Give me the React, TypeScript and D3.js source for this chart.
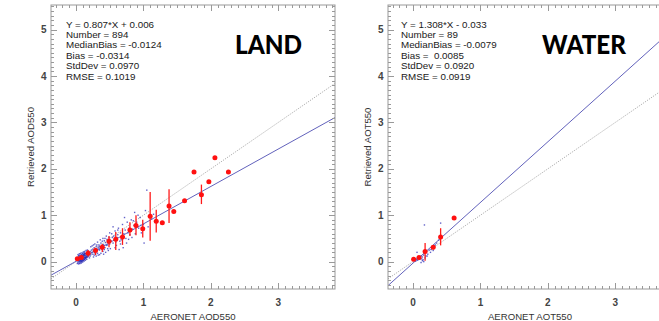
import React from "react";
import * as d3 from "d3";

// ---- Data ----
const panelNames = ["LAND", "WATER"];
const xTitles = ["AERONET AOD550", "AERONET AOT550"];
const yTitles = ["Retrieved AOD550", "Retrieved AOT550"];
const landStats = ["Y = 0.807*X + 0.006", "Number = 894", "MedianBias = -0.0124", "Bias = -0.0314", "StdDev = 0.0970", "RMSE = 0.1019"];
const waterStats = ["Y = 1.308*X - 0.033", "Number = 89", "MedianBias = -0.0079", "Bias =  0.0085", "StdDev = 0.0920", "RMSE = 0.0919"];
const landFit = [0.807, 0.006];
const waterFit = [1.308, -0.033];
const xTickValues = [0, 1, 2, 3];
const yTickValues = [0, 1, 2, 3, 4, 5];

// binned means with std range (x, y, low, high)
const landBinX = [0.02, 0.08, 0.18, 0.29, 0.39, 0.49, 0.59, 0.69, 0.80, 0.89, 0.99, 1.10, 1.19, 1.28, 1.38, 1.45, 1.61, 1.75, 1.86, 1.97, 2.06, 2.26];
const landBinY = [0.06, 0.09, 0.18, 0.24, 0.31, 0.44, 0.48, 0.53, 0.68, 0.78, 0.71, 0.98, 0.87, 0.84, 1.20, 1.08, 1.31, 1.93, 1.44, 1.72, 2.24, 1.93];
const landBinLo = [0.02, 0.04, 0.11, 0.14, 0.21, 0.31, 0.25, 0.36, 0.55, 0.57, 0.52, 0.45, 0.63, 0.84, 0.83, 1.08, 1.31, 1.93, 1.24, 1.72, 2.24, 1.93];
const landBinHi = [0.10, 0.14, 0.25, 0.30, 0.38, 0.55, 0.64, 0.72, 0.85, 1.00, 0.90, 1.50, 1.12, 0.84, 1.56, 1.08, 1.31, 1.93, 1.66, 1.72, 2.24, 1.93];

const waterBinX = [0.01, 0.09, 0.18, 0.30, 0.41, 0.61];
const waterBinY = [0.05, 0.09, 0.22, 0.31, 0.53, 0.94];
const waterBinLo = [0.03, 0.06, 0.02, 0.26, 0.35, 0.94];
const waterBinHi = [0.07, 0.12, 0.40, 0.36, 0.72, 0.94];

const landPoints: [number, number][] = [
  [0.02, 0.03], [0.03, 0.05], [0.03, 0.01], [0.04, 0.07], [0.04, 0.02], [0.05, 0.04], [0.05, 0.08], [0.05, 0.0],
  [0.06, 0.05], [0.06, 0.10], [0.06, 0.03], [0.07, 0.06], [0.07, 0.09], [0.07, 0.02], [0.08, 0.07], [0.08, 0.11],
  [0.08, 0.04], [0.09, 0.08], [0.09, 0.12], [0.09, 0.05], [0.10, 0.09], [0.10, 0.06], [0.10, 0.13], [0.11, 0.10],
  [0.11, 0.07], [0.11, 0.14], [0.12, 0.11], [0.12, 0.08], [0.12, 0.15], [0.13, 0.12], [0.13, 0.09], [0.13, 0.16],
  [0.14, 0.13], [0.14, 0.10], [0.15, 0.14], [0.15, 0.11], [0.15, 0.18], [0.16, 0.15], [0.16, 0.12], [0.17, 0.16],
  [0.17, 0.13], [0.18, 0.19], [0.18, 0.14], [0.19, 0.17], [0.04, 0.10], [0.05, 0.12], [0.06, 0.14], [0.08, 0.15],
  [0.10, 0.17], [0.12, 0.19], [0.03, -0.02], [0.05, -0.03], [0.07, -0.01], [0.09, 0.01], [0.11, 0.03], [0.13, 0.05],
  [0.14, 0.17], [0.16, 0.20], [0.02, 0.07], [0.04, 0.13], [0.06, 0.01], [0.08, 0.0], [0.10, 0.02], [0.12, 0.04],
  [0.14, 0.07], [0.03, 0.09], [0.05, 0.06], [0.07, 0.12], [0.09, 0.14], [0.11, 0.16], [0.13, 0.18], [0.15, 0.08],
  [0.17, 0.10], [0.19, 0.13], [0.18, 0.22], [0.16, 0.09], [0.06, 0.08], [0.08, 0.09], [0.10, 0.11], [0.12, 0.13],
  [0.02, -0.04], [0.04, -0.05], [0.06, -0.04], [0.08, -0.03], [0.10, -0.01], [0.12, 0.01], [0.14, 0.03], [0.16, 0.05],
  [0.03, 0.15], [0.05, 0.17], [0.07, 0.18], [0.09, 0.19], [0.11, 0.21], [0.13, 0.22], [0.15, 0.24], [0.17, 0.25],
  [0.04, 0.04], [0.06, 0.06], [0.08, 0.02], [0.10, 0.04], [0.12, 0.06], [0.14, 0.08], [0.16, 0.17], [0.18, 0.11],
  [0.20, 0.18], [0.21, 0.22], [0.22, 0.15], [0.23, 0.25], [0.24, 0.20], [0.25, 0.27], [0.25, 0.16], [0.26, 0.23],
  [0.27, 0.30], [0.28, 0.19], [0.29, 0.26], [0.30, 0.33], [0.30, 0.22], [0.31, 0.28], [0.32, 0.18], [0.33, 0.31],
  [0.34, 0.36], [0.35, 0.25], [0.36, 0.30], [0.37, 0.40], [0.38, 0.27], [0.39, 0.34], [0.40, 0.22], [0.41, 0.37],
  [0.42, 0.45], [0.43, 0.30], [0.44, 0.41], [0.45, 0.35], [0.46, 0.48], [0.47, 0.28], [0.48, 0.43], [0.49, 0.52],
  [0.50, 0.38], [0.22, 0.32], [0.26, 0.10], [0.33, 0.14], [0.28, 0.38], [0.36, 0.47], [0.40, 0.50], [0.44, 0.20],
  [0.35, 0.15], [0.21, 0.12], [0.23, 0.19], [0.27, 0.21], [0.29, 0.17], [0.31, 0.24], [0.34, 0.26], [0.38, 0.33],
  [0.20, 0.08], [0.24, 0.34], [0.26, 0.36], [0.30, 0.12], [0.32, 0.42], [0.37, 0.18], [0.39, 0.44], [0.42, 0.26],
  [0.45, 0.55], [0.47, 0.36], [0.43, 0.50], [0.41, 0.16], [0.27, 0.14], [0.31, 0.36], [0.35, 0.33], [0.48, 0.24],
  [0.52, 0.45], [0.53, 0.60], [0.55, 0.40], [0.56, 0.55], [0.57, 0.48], [0.58, 0.66], [0.60, 0.35], [0.61, 0.52],
  [0.62, 0.58], [0.63, 0.72], [0.65, 0.44], [0.66, 0.62], [0.68, 0.55], [0.69, 0.80], [0.70, 0.30], [0.71, 0.60],
  [0.73, 0.68], [0.74, 0.50], [0.76, 0.85], [0.77, 0.62], [0.79, 0.72], [0.80, 0.58], [0.82, 0.90], [0.84, 0.70],
  [0.86, 0.78], [0.87, 1.06], [0.88, 0.60], [0.90, 0.85], [0.93, 0.72], [0.95, 0.95], [0.97, 0.62], [1.00, 0.80],
  [1.01, 0.40], [1.03, 1.10], [1.05, 1.54], [1.07, 0.75], [1.12, 0.92], [1.15, 1.02], [0.55, 0.75], [0.64, 0.26],
  [0.72, 0.95], [0.50, 0.62], [0.58, 0.30], [0.67, 0.47], [0.75, 0.40], [0.83, 0.52], [0.92, 1.00], [0.54, 0.52],
  [0.51, 0.28], [0.59, 0.42], [0.62, 0.68], [0.66, 0.38], [0.78, 0.48], [0.81, 0.66], [0.85, 0.88], [0.96, 0.78],
];

const waterPoints: [number, number][] = [
  [0.02, 0.02], [0.03, 0.05], [0.04, 0.01], [0.05, 0.04], [0.06, 0.07], [0.07, 0.03], [0.08, 0.06], [0.09, 0.10],
  [0.10, 0.05], [0.11, 0.08], [0.12, 0.12], [0.13, 0.06], [0.14, 0.10], [0.15, 0.04], [0.16, 0.14], [0.17, 0.79],
  [0.18, 0.18], [0.19, 0.12], [0.20, 0.22], [0.22, 0.16], [0.24, 0.25], [0.26, 0.20], [0.28, 0.30], [0.30, 0.24],
  [0.32, 0.33], [0.35, 0.40], [0.38, 0.46], [0.41, 0.83], [0.06, 0.20], [0.12, -0.02], [0.14, 0.02], [0.16, 0.0],
  [0.18, 0.08], [0.21, 0.12], [0.27, 0.26], [0.33, 0.36],
];

// ---- Layout ----
const W = 659;
const H = 321;
const panelLeft = [51, 388];
const panelW = 284;
const top = 5;
const bottom = 289;
const xDomain: [number, number] = [-0.37, 3.84];
const yDomain: [number, number] = [-0.59, 5.53];
const statsOffset = [15, 13];
const nameX = [268.5, 584];
const nameW = [67, 84];

type PanelProps = {
  idx: number;
  stats: string[];
  fit: number[];
  points: [number, number][];
  bx: number[];
  by: number[];
  lo: number[];
  hi: number[];
};

function Panel({ idx, stats, fit, points, bx, by, lo, hi }: PanelProps) {
  const x0 = panelLeft[idx];
  const x1 = x0 + panelW;
  const xs = d3.scaleLinear().domain(xDomain).range([x0, x1]);
  const ys = d3.scaleLinear().domain(yDomain).range([bottom, top]);
  const clipId = `clip${idx}`;
  const xMinor = d3.range(-3, 39).map((i) => i / 10);
  const yMinor = d3.range(-5, 56).map((i) => i / 10);
  const line = d3.line<[number, number]>().x((d) => xs(d[0])).y((d) => ys(d[1]));
  const fitPts: [number, number][] = xDomain.map((v) => [v, fit[0] * v + fit[1]] as [number, number]);
  const onePts: [number, number][] = xDomain.map((v) => [v, v] as [number, number]);
  const axisColor = "#999";
  const isMajor = (v: number) => Math.abs(v - Math.round(v)) < 1e-6;
  return (
    <g>
      <defs>
        <clipPath id={clipId}>
          <rect x={x0} y={top} width={panelW} height={bottom - top} />
        </clipPath>
      </defs>
      <g clipPath={`url(#${clipId})`}>
        <path d={line(onePts) || ""} stroke="#9a9a9a" strokeWidth={0.8} strokeDasharray="1.2,1.2" fill="none" />
        {points.map((p, i) => (
          <rect key={i} x={xs(p[0]) - 0.7} y={ys(p[1]) - 0.7} width={1.4} height={1.4} fill="#2020b0" opacity={0.7} />
        ))}
        <path d={line(fitPts) || ""} stroke="#6262bc" strokeWidth={1} fill="none" />
        {bx.map((v, i) => (
          <line key={"e" + i} x1={xs(v)} x2={xs(v)} y1={ys(lo[i])} y2={ys(hi[i])} stroke="#ff1a1a" strokeWidth={1.3} />
        ))}
        {bx.map((v, i) => (
          <circle key={"c" + i} cx={xs(v)} cy={ys(by[i])} r={2.5} fill="#ff1010" />
        ))}
      </g>
      {/* axes box */}
      <rect x={x0} y={top} width={panelW} height={bottom - top} fill="none" stroke={axisColor} strokeWidth={1} />
      {xMinor.map((v, i) => {
        const len = isMajor(v) ? 6 : 3;
        const px = Math.round(xs(v)) + 0.5;
        return (
          <g key={"xt" + i}>
            <line x1={px} x2={px} y1={bottom} y2={bottom - len} stroke={axisColor} strokeWidth={1} />
            <line x1={px} x2={px} y1={top} y2={top + len} stroke={axisColor} strokeWidth={1} />
          </g>
        );
      })}
      {yMinor.map((v, i) => {
        const len = isMajor(v) ? 6 : 3;
        const py = Math.round(ys(v)) + 0.5;
        return (
          <g key={"yt" + i}>
            <line x1={x0} x2={x0 + len} y1={py} y2={py} stroke={axisColor} strokeWidth={1} />
            <line x1={x1} x2={x1 - len} y1={py} y2={py} stroke={axisColor} strokeWidth={1} />
          </g>
        );
      })}
      {xTickValues.map((v) => (
        <text key={"xl" + v} x={xs(v)} y={305.5} textAnchor="middle" fontSize={10} fontWeight="bold" fill="#444">
          {v}
        </text>
      ))}
      {yTickValues.map((v) => (
        <text key={"yl" + v} x={x0 - 4.5} y={ys(v) + 3.5} textAnchor="end" fontSize={10} fontWeight="bold" fill="#444">
          {v}
        </text>
      ))}
      <text x={(x0 + x1) / 2} y={319.5} textAnchor="middle" fontSize={9.6} fill="#333">
        {xTitles[idx]}
      </text>
      <text
        transform={`translate(${x0 - 17.5},${(top + bottom) / 2}) rotate(-90)`}
        textAnchor="middle"
        fontSize={9.6}
        fill="#333"
      >
        {yTitles[idx]}
      </text>
      {stats.map((s, i) => (
        <text key={"s" + i} x={x0 + statsOffset[idx]} y={27.5 + i * 10.4} fontSize={9.8} fill="#1a1a1a" style={{ whiteSpace: "pre" }}>
          {s}
        </text>
      ))}
      <text
        x={nameX[idx]}
        y={54}
        textAnchor="middle"
        fontFamily="Lato, 'Open Sans', sans-serif"
        fontWeight={900}
        fontSize={26}
        fill="#000"
        textLength={nameW[idx]}
        lengthAdjust="spacingAndGlyphs"
      >
        {panelNames[idx]}
      </text>
    </g>
  );
}

export default function App() {
  return (
    <svg
      width={W}
      height={H}
      style={{ position: "absolute", left: 0, top: 0, background: "#fff" }}
      fontFamily="'Liberation Sans', Arial, sans-serif"
    >
      <rect x={0} y={0} width={W} height={H} fill="#fff" />
      <Panel idx={0} stats={landStats} fit={landFit} points={landPoints} bx={landBinX} by={landBinY} lo={landBinLo} hi={landBinHi} />
      <Panel idx={1} stats={waterStats} fit={waterFit} points={waterPoints} bx={waterBinX} by={waterBinY} lo={waterBinLo} hi={waterBinHi} />
    </svg>
  );
}
